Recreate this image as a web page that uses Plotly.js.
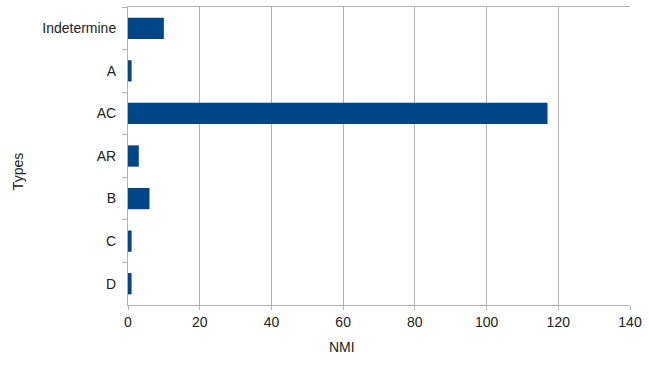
<!DOCTYPE html>
<html><head><meta charset="utf-8">
<script src="https://cdn.plot.ly/plotly-3.0.1.min.js"></script>
<style>html,body{margin:0;padding:0;background:#fff}</style>
</head><body>
<div id="chart" style="width:649px;height:374px"></div>
<script>
const categories = ["Indetermine", "A", "AC", "AR", "B", "C", "D"];
const values = [10, 1, 117, 3, 6, 1, 1];
const xTicks = [0, 20, 40, 60, 80, 100, 120, 140];
const xTitle = "NMI";
const yTitle = "Types";

const trace = {
  type: "bar",
  orientation: "h",
  y: categories,
  x: values,
  marker: {color: "#004586"},
  width: 0.5,
  hoverinfo: "x+y"
};

const layout = {
  width: 649, height: 374,
  margin: {l: 128, r: 19, t: 7, b: 69, pad: 0},
  paper_bgcolor: "#ffffff",
  plot_bgcolor: "#ffffff",
  font: {family: "Liberation Sans, Arial, sans-serif", size: 14, color: "#222"},
  showlegend: false,
  xaxis: {
    range: [0, 140],
    tickvals: xTicks,
    ticktext: xTicks.map(String),
    showgrid: true, gridcolor: "#b3b3b3", gridwidth: 1,
    zeroline: false,
    showline: true, linecolor: "#b3b3b3", linewidth: 1, mirror: true,
    ticks: "outside", ticklen: 4, tickcolor: "#b3b3b3",
    fixedrange: true
  },
  yaxis: {
    type: "category",
    categoryorder: "array",
    categoryarray: categories,
    autorange: "reversed",
    showgrid: false,
    zeroline: false,
    showline: true, linecolor: "#b3b3b3", linewidth: 1,
    ticks: "outside", ticklen: 5, tickcolor: "#b3b3b3",
    tickson: "boundaries",
    ticklabelstandoff: 8,
    fixedrange: true
  },
  annotations: [
    {text: xTitle, xref: "paper", yref: "paper", x: 0.427, y: -0.141,
     xanchor: "center", yanchor: "middle", showarrow: false,
     font: {size: 14, color: "#222"}},
    {text: yTitle, xref: "paper", yref: "paper", x: -0.219, y: 0.446,
     xanchor: "center", yanchor: "middle", showarrow: false, textangle: -90,
     font: {size: 14, color: "#222"}}
  ],
  bargap: 0.5
};

Plotly.newPlot("chart", [trace], layout, {displayModeBar: false, staticPlot: true});
</script>
</body></html>
